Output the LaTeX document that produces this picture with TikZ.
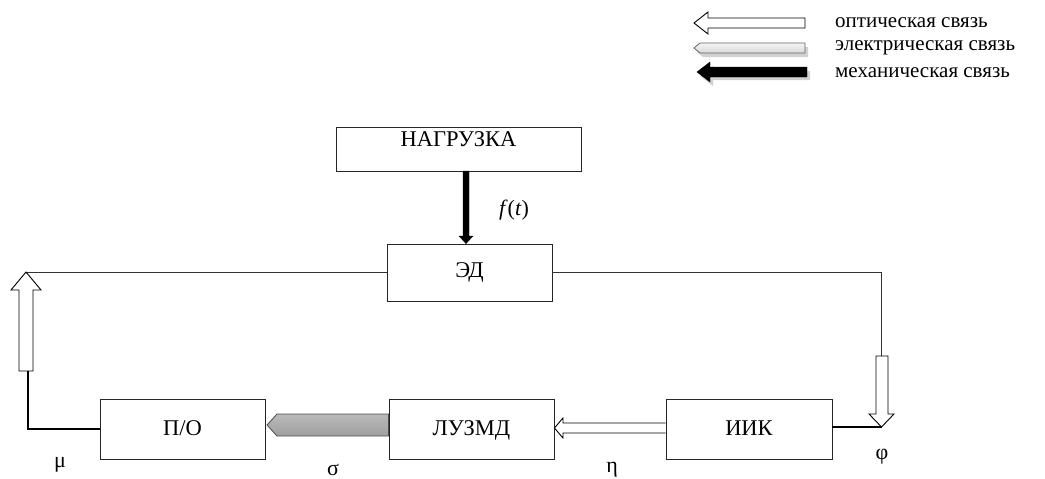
\documentclass[tikz,border=0pt]{standalone}
\usepackage{fontspec}
\setmainfont{Liberation Serif}
\usetikzlibrary{calc}
\begin{document}
\begin{tikzpicture}[x=1pt,y=-1pt,
  blk/.style={draw=black!85,line width=0.9pt,fill=white,inner sep=0pt,font=\fontsize{22.5}{27}\selectfont},
  lbl/.style={font=\fontsize{22}{27}\selectfont,inner sep=0pt},
  legtxt/.style={font=\fontsize{21}{25}\selectfont,inner sep=0pt,anchor=west},
  thin/.style={draw=black!80,line width=0.9pt},
  thick/.style={draw=black,line width=1.8pt},
  optarrow/.style={draw=black,line width=0.9pt,fill=white},
  elarrow/.style={draw=black!70,line width=0.8pt,top color=gray!55,bottom color=gray!75},
  legel/.style={draw=black!60,line width=0.8pt,top color=gray!8,bottom color=gray!30},
  mecharrow/.style={draw=black,fill=black},
  shadowfill/.style={fill=black,opacity=0.18,draw=none}]
\useasboundingbox (0,0) rectangle (1045,479);

% boxes
\node[blk,minimum width=245pt,minimum height=44pt,text height=15pt,text depth=21pt] (load) at (458.5,149) {НАГРУЗКА};
\node[blk,minimum width=165pt,minimum height=57pt] (ed) at (469.5,272.5) {ЭД};
\node[blk,minimum width=165pt,minimum height=60pt,text height=15pt,text depth=3pt] (po) at (182.5,429) {П/О};
\node[blk,minimum width=165pt,minimum height=60pt,text height=15pt,text depth=3pt] (luz) at (471.5,429) {ЛУЗМД};
\node[blk,minimum width=166pt,minimum height=60pt,text height=15pt,text depth=3pt] (iik) at (749,429) {ИИК};

% coordinates
\coordinate (ltip) at (26,272);
\coordinate (lbase) at (26,371);
\coordinate (rtop) at (881,272);
\coordinate (rbase) at (881,356);
\coordinate (rtip) at (881.5,427);

% ED -> left optical arrow
\draw[thin] (ed.west |- ltip) -- (ltip);
\draw[optarrow] (19,371)--(19,290)--(11,290)--(ltip)--(41,290)--(33,290)--(33,371)--cycle;
\draw[thick] (po.west) -| ([xshift=2pt]lbase);

% ED -> right optical arrow
\draw[thin] (ed.east |- rtop) -- (rtop) -- (rbase);
\draw[optarrow] (876,356)--(876,414)--(869,414)--(rtip)--(894,414)--(888,414)--(888,356)--cycle;
\draw[thick] (rtip -| iik.east) -- (rtip);

% IIK -> LUZMD optical
\draw[optarrow] (iik.west |- 0,423)--(563,423)--(563,418)--(luz.east |- 0,428)--(563,438)--(563,433)--(iik.west |- 0,433);

% LUZMD -> P/O electric
\draw[elarrow] (luz.west |- 0,414)--(277,414)--(267,425)--(277,436)--(luz.west |- 0,436)--cycle;

% load -> ED mechanical
\fill[mecharrow] (463,171)--(463,236)--(459,236)--(ed.north -| 466,0)--(473,236)--(469,236)--(469,171)--cycle;

% labels
\node[lbl] (ft) at (514,210) {\textit{f}(\textit{t})};
\node[lbl] (mu) at (60,465) {μ};
\node[lbl] (sigma) at (333,470) {σ};
\node[lbl] (eta) at (612,470) {η};
\node[lbl] (phi) at (882,457) {φ};

% legend
\draw[optarrow] (805,18)--(708,18)--(708,12)--(694,23)--(708,34)--(708,28)--(805,28)--cycle;
\fill[shadowfill] (808,47)--(703,47)--(697,52)--(703,57)--(808,57)--cycle;
\draw[legel] (805,43)--(700,43)--(694,48)--(700,53)--(805,53)--cycle;
\fill[shadowfill] (810,71)--(713,71)--(713,66)--(700,76)--(713,86)--(713,80)--(810,80)--cycle;
\fill[mecharrow] (807,67)--(710,67)--(710,62)--(697,72)--(710,82)--(710,77)--(807,77)--cycle;
\node[legtxt] (t1) at (835,23) {оптическая связь};
\node[legtxt] (t2) at (835,48) {электрическая связь};
\node[legtxt] (t3) at (835,73) {механическая связь};
\end{tikzpicture}
\end{document}
